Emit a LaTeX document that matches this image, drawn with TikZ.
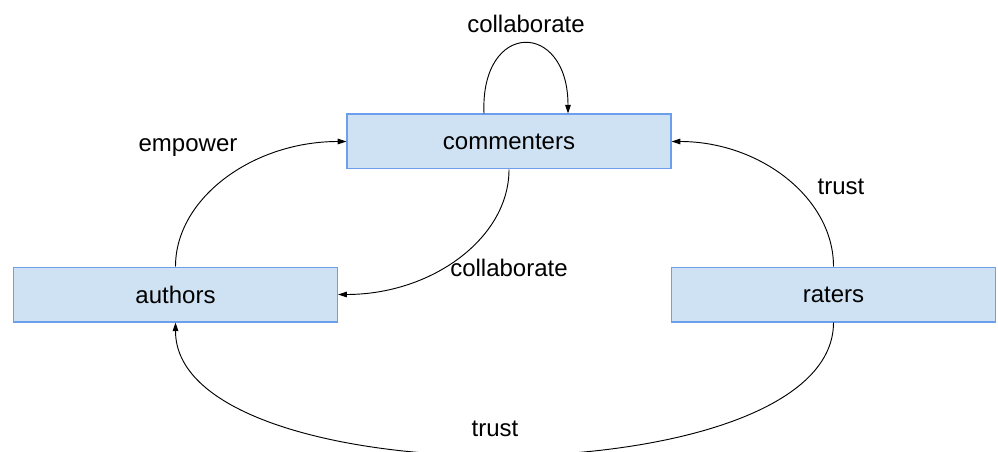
\documentclass[tikz,border=0pt]{standalone}
\usepackage{fontspec}
\setmainfont{Liberation Sans}
\usetikzlibrary{arrows.meta,calc}
\definecolor{boxfill}{HTML}{CFE2F3}
\definecolor{boxline}{HTML}{6D9EEB}
\tikzset{
  actor/.style={draw=boxline, fill=boxfill, line width=1pt,
    minimum width=243pt, minimum height=41pt, inner sep=0pt,
    font=\fontsize{18}{21}\selectfont},
  rel/.style={draw=black, line width=0.7pt, -{Triangle[length=6.5pt,width=4.2pt]}},
  lbl/.style={font=\fontsize{18}{21}\selectfont, inner sep=0pt}
}
\begin{document}
\begin{tikzpicture}[x=0.75pt, y=-0.75pt]
  \useasboundingbox (0,0) rectangle (998,452);
  \clip (0,0) rectangle (998,452);

  % actors
  \node[actor] (cm) at (509,141.5) {commenters};
  \node[actor] (au) at (175.5,294.5) {authors};
  \node[actor] (ra) at (833.5,294.5) {raters};

  % attachment points for the self-loop
  \coordinate (loopA) at ($(cm.north)+(-25,0)$);
  \coordinate (loopB) at ($(cm.north)+(59,0)$);

  % relations (quarter-ellipse style arcs)
  \draw[rel] (loopA) .. controls (480,20) and (568,20) .. (loopB);
  \draw[rel] (au.north) .. controls (175.5,198) and (253,141.5) .. (cm.west);
  \draw[rel] (cm.south) .. controls (509,238) and (432,294.5) .. (au.east);
  \draw[rel] (ra.north) .. controls (833.5,198) and (760,141.5) .. (cm.east);
  \draw[rel] (ra.south) .. controls (833.5,499) and (175.5,499) .. (au.south);

  % relation labels
  \node[lbl] (l1) at (526,24) {collaborate};
  \node[lbl] (l2) at (188,148) {empower};
  \node[lbl] (l3) at (509,268) {collaborate};
  \node[lbl] (l4) at (841,187) {trust};
  \node[lbl] (l5) at (495,429) {trust};
\end{tikzpicture}
\end{document}
